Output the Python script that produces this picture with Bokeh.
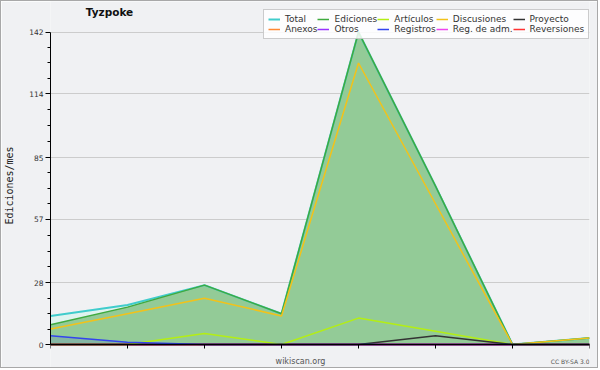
from bokeh.plotting import figure
from bokeh.models import Range1d, FixedTicker, Legend, LegendItem, Label
from bokeh.embed import file_html
from bokeh.resources import INLINE

# ---- data (monthly values) ----
meses = [0, 1, 2, 3, 4, 5, 6, 7]
total = [13, 18, 27, 14, 142, 72, 0, 3]
ediciones = [9, 17, 27, 14, 142, 72, 0, 3]
articulos = [0, 0, 5, 0, 12, 6, 0, 0]
discusiones = [7, 14, 21, 13, 128, 64, 0, 3]
proyecto = [0, 0, 0, 0, 0, 4, 0, 0]
anexos = [0, 0, 0, 0, 0, 0, 0, 0]
otros = [0, 0, 0, 0, 0, 0, 0, 0]
registros = [4, 1, 0, 0, 0, 0, 0, 0]
reg_adm = [0, 0, 0, 0, 0, 0, 0, 0]
reversiones = [0, 0, 0, 0, 0, 0, 0, 0]

y_ticks = [0, 28, 57, 85, 114, 142]
y_minor = []
for a, b in zip(y_ticks[:-1], y_ticks[1:]):
    for k in (1, 2, 3):
        y_minor.append(a + (b - a) * k / 4)

FONT = "DejaVu Sans"

# layout: the frame spans the whole canvas height; value 0 sits 25px above the
# bottom edge and the top tick about 31px below the top edge
W, H = 598, 368
PX_TOP, PX_ZERO = 30.7, 343.0
px_per_unit = (PX_ZERO - PX_TOP) / y_ticks[-1]
y_hi = PX_ZERO / px_per_unit
y_lo = -(H - PX_ZERO) / px_per_unit

p = figure(width=W, height=H, x_range=Range1d(meses[0], meses[-1]), y_range=Range1d(y_lo, y_hi),
           title=None, output_backend="svg", toolbar_location=None,
           min_border_left=46, min_border_right=10, min_border_top=0, min_border_bottom=0,
           background_fill_color="#f0f1f3", border_fill_color="#f0f1f3")
p.styles = {"border": "1px solid #a8a8a8"}
p.outline_line_color = None
p.xgrid.visible = False
p.ygrid.grid_line_color = "#cccccc"
p.ygrid.grid_line_width = 1

p.yaxis.ticker = FixedTicker(ticks=y_ticks, minor_ticks=y_minor)
p.yaxis.bounds = (y_ticks[0], y_ticks[-1])
p.yaxis.major_tick_out = 5
p.yaxis.major_tick_in = 0
p.yaxis.minor_tick_out = 3
p.yaxis.minor_tick_in = 0
p.yaxis.axis_line_color = "black"
p.yaxis.major_tick_line_color = "black"
p.yaxis.minor_tick_line_color = "black"
p.yaxis.major_label_text_font = FONT
p.yaxis.major_label_text_font_size = "7.5px"
p.yaxis.major_label_text_color = "#333333"
p.yaxis.major_label_standoff = 2
p.yaxis.axis_label = "Ediciones/mes"
p.yaxis.axis_label_text_font = "DejaVu Sans Mono"
p.yaxis.axis_label_text_font_style = "normal"
p.yaxis.axis_label_text_font_size = "10px"
p.yaxis.axis_label_text_color = "#222222"
p.yaxis.axis_label_standoff = 11

p.xaxis.ticker = FixedTicker(ticks=meses)
p.xaxis.fixed_location = 0
p.xaxis.major_tick_out = 4
p.xaxis.major_tick_in = 0
p.xaxis.minor_tick_line_color = None
p.xaxis.axis_line_color = "black"
p.xaxis.axis_line_width = 1.5
p.xaxis.major_tick_line_color = "black"
p.xaxis.major_label_text_color = None
p.xaxis.major_label_text_font_size = "1px"
p.xaxis.major_label_standoff = 0

# areas
p.varea(x=meses, y1=0, y2=total, fill_color="#dff3ef")
p.varea(x=meses, y1=0, y2=ediciones, fill_color="#93cb97")
p.varea(x=meses, y1=0, y2=registros, fill_color="#3344ee", fill_alpha=0.15)

r_anexos = p.line(meses, anexos, line_color="#ff8833", line_width=1.5)
r_otros = p.line(meses, otros, line_color="#9933ff", line_width=1.5)
r_regadm = p.line(meses, reg_adm, line_color="#ee44ee", line_width=1.5)
r_rev = p.line(meses, reversiones, line_color="#ff3333", line_width=1.5)
r_total = p.line(meses, total, line_color="#40cccc", line_width=2)
r_edic = p.line(meses, ediciones, line_color="#3faa3f", line_width=1.5)
r_disc = p.line(meses, discusiones, line_color="#f2c21a", line_width=1.5)
r_art = p.line(meses, articulos, line_color="#b4ee14", line_width=1.5)
r_proy = p.line(meses, proyecto, line_color="#333333", line_width=1.5)
r_reg = p.line(meses, registros, line_color="#3344ee", line_width=1.5)

items = [
    LegendItem(label="Total", renderers=[r_total]),
    LegendItem(label="Ediciones", renderers=[r_edic]),
    LegendItem(label="Artículos", renderers=[r_art]),
    LegendItem(label="Discusiones", renderers=[r_disc]),
    LegendItem(label="Proyecto", renderers=[r_proy]),
    LegendItem(label="Anexos", renderers=[r_anexos]),
    LegendItem(label="Otros", renderers=[r_otros]),
    LegendItem(label="Registros", renderers=[r_reg]),
    LegendItem(label="Reg. de adm.", renderers=[r_regadm]),
    LegendItem(label="Reversiones", renderers=[r_rev]),
]
legend = Legend(items=items, location=(213, 330), orientation="horizontal", ncols=5,
                label_text_font=FONT, label_text_font_size="9px", label_text_color="#333333",
                glyph_width=12, glyph_height=10, label_height=10, label_standoff=5,
                spacing=0, padding=4, margin=0,
                background_fill_color="white", background_fill_alpha=0.85,
                border_line_color="#999999", border_line_width=1)
p.add_layout(legend, "center")

p.add_layout(Label(x=59, y=358, x_units="screen", y_units="screen", text="Tyzpoke",
                   text_font=FONT, text_font_style="bold", text_font_size="10.5px",
                   text_color="#111111", text_align="center", text_baseline="middle"))
p.add_layout(Label(x=250, y=8, x_units="screen", y_units="screen", text="wikiscan.org",
                   text_font=FONT, text_font_size="8px",
                   text_color="#555555", text_align="center", text_baseline="middle"))
p.add_layout(Label(x=539, y=8, x_units="screen", y_units="screen", text="CC BY-SA 3.0",
                   text_font=FONT, text_font_size="6px",
                   text_color="#555555", text_align="right", text_baseline="middle"))

open("out.html", "w").write(file_html(p, INLINE))
